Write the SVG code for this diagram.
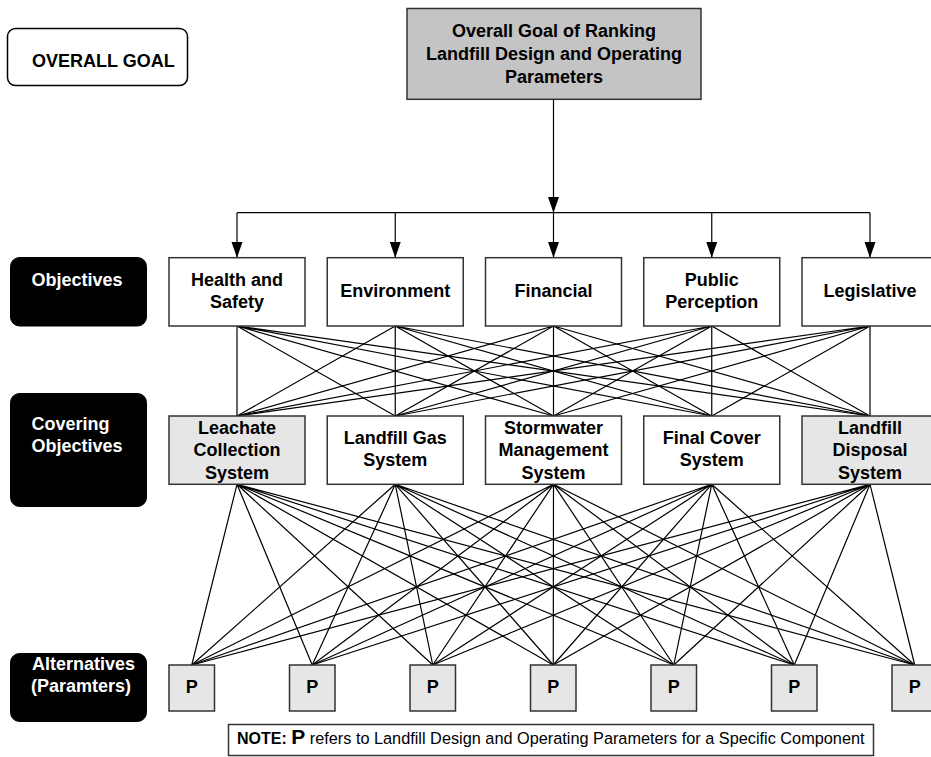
<svg xmlns="http://www.w3.org/2000/svg" width="931" height="757" viewBox="0 0 931 757">
<style>
text{font-family:"Liberation Sans",Arial,sans-serif;font-weight:bold;fill:#000;text-anchor:middle;font-size:18px}
.lbl text{fill:#fff;text-anchor:start}
.lbl rect{fill:#000;stroke:#000}
.box{stroke:#333;stroke-width:1.5;fill:#fff}
.gray{fill:#e6e6e6}
.goal{fill:#c4c4c4}
.ln{stroke:#000;stroke-width:1.2;fill:none}
</style>
<defs>
<marker id="ah" markerUnits="userSpaceOnUse" markerWidth="16" markerHeight="12" refX="16" refY="6" orient="auto">
<path d="M0,0.4 L16,6 L0,11.6 z" fill="#000"/>
</marker>
</defs>
<rect width="931" height="757" fill="#fff"/>

<g id="legend-overall-goal">
<rect x="7.5" y="28.5" width="180" height="57" rx="8" fill="#fff" stroke="#000" stroke-width="1.5"/>
<text x="32" y="66.5" style="text-anchor:start">OVERALL GOAL</text>
</g>
<g id="legend-objectives" class="lbl">
<rect x="10.5" y="257.5" width="136" height="68.5" rx="9"/>
<text x="31.5" y="286">Objectives</text>
</g>
<g id="legend-covering" class="lbl">
<rect x="10.5" y="393.5" width="136" height="113" rx="9"/>
<text x="31.5" y="430">Covering</text>
<text x="31.5" y="451.5">Objectives</text>
</g>
<g id="legend-alternatives" class="lbl">
<rect x="10.5" y="653.5" width="136" height="68" rx="9"/>
<text x="32" y="670">Alternatives</text>
<text x="31" y="691.5">(Paramters)</text>
</g>

<g id="connectors">
<path class="ln" d="M553.5,99.3 V212.7" marker-end="url(#ah)"/>
<path class="ln" d="M237,212.7 H870"/>
<path class="ln" d="M237,212.7 V257.7" marker-end="url(#ah)"/>
<path class="ln" d="M395.25,212.7 V257.7" marker-end="url(#ah)"/>
<path class="ln" d="M553.5,212.7 V257.7" marker-end="url(#ah)"/>
<path class="ln" d="M711.75,212.7 V257.7" marker-end="url(#ah)"/>
<path class="ln" d="M870,212.7 V257.7" marker-end="url(#ah)"/>
<path class="ln" d="M237,326 L237,416 M237,326 L395.25,416 M237,326 L553.5,416 M237,326 L711.75,416 M237,326 L870,416"/>
<path class="ln" d="M395.25,326 L237,416 M395.25,326 L395.25,416 M395.25,326 L553.5,416 M395.25,326 L711.75,416 M395.25,326 L870,416"/>
<path class="ln" d="M553.5,326 L237,416 M553.5,326 L395.25,416 M553.5,326 L553.5,416 M553.5,326 L711.75,416 M553.5,326 L870,416"/>
<path class="ln" d="M711.75,326 L237,416 M711.75,326 L395.25,416 M711.75,326 L553.5,416 M711.75,326 L711.75,416 M711.75,326 L870,416"/>
<path class="ln" d="M870,326 L237,416 M870,326 L395.25,416 M870,326 L553.5,416 M870,326 L711.75,416 M870,326 L870,416"/>
<path class="ln" d="M237,484.3 L191.75,665 M237,484.3 L312.25,665 M237,484.3 L432.75,665 M237,484.3 L553.25,665 M237,484.3 L673.75,665 M237,484.3 L794.25,665 M237,484.3 L914.75,665"/>
<path class="ln" d="M395.25,484.3 L191.75,665 M395.25,484.3 L312.25,665 M395.25,484.3 L432.75,665 M395.25,484.3 L553.25,665 M395.25,484.3 L673.75,665 M395.25,484.3 L794.25,665 M395.25,484.3 L914.75,665"/>
<path class="ln" d="M553.5,484.3 L191.75,665 M553.5,484.3 L312.25,665 M553.5,484.3 L432.75,665 M553.5,484.3 L553.25,665 M553.5,484.3 L673.75,665 M553.5,484.3 L794.25,665 M553.5,484.3 L914.75,665"/>
<path class="ln" d="M711.75,484.3 L191.75,665 M711.75,484.3 L312.25,665 M711.75,484.3 L432.75,665 M711.75,484.3 L553.25,665 M711.75,484.3 L673.75,665 M711.75,484.3 L794.25,665 M711.75,484.3 L914.75,665"/>
<path class="ln" d="M870,484.3 L191.75,665 M870,484.3 L312.25,665 M870,484.3 L432.75,665 M870,484.3 L553.25,665 M870,484.3 L673.75,665 M870,484.3 L794.25,665 M870,484.3 L914.75,665"/>
</g>

<g id="goal">
<rect class="box goal" x="407" y="8.5" width="294" height="90.8"/>
<text x="554" y="36.7">Overall Goal of Ranking</text>
<text x="554" y="60">Landfill Design and Operating</text>
<text x="554" y="83.3">Parameters</text>
</g>

<g id="obj-health">
<rect class="box" x="169" y="257.7" width="136" height="68.3"/>
<text x="237" y="286">Health and</text>
<text x="237" y="308">Safety</text>
</g>
<g id="obj-environment">
<rect class="box" x="327.25" y="257.7" width="136" height="68.3"/>
<text x="395.25" y="297.3">Environment</text>
</g>
<g id="obj-financial">
<rect class="box" x="485.5" y="257.7" width="136" height="68.3"/>
<text x="553.5" y="297.3">Financial</text>
</g>
<g id="obj-public">
<rect class="box" x="643.75" y="257.7" width="136" height="68.3"/>
<text x="711.75" y="286">Public</text>
<text x="711.75" y="308">Perception</text>
</g>
<g id="obj-legislative">
<rect class="box" x="802" y="257.7" width="136" height="68.3"/>
<text x="870" y="297.3">Legislative</text>
</g>

<g id="cov-leachate">
<rect class="box gray" x="169" y="416" width="136" height="68.3"/>
<text x="237" y="433.5">Leachate</text>
<text x="237" y="456">Collection</text>
<text x="237" y="478.5">System</text>
</g>
<g id="cov-gas">
<rect class="box" x="327.25" y="416" width="136" height="68.3"/>
<text x="395.25" y="443.5">Landfill Gas</text>
<text x="395.25" y="466">System</text>
</g>
<g id="cov-stormwater">
<rect class="box" x="485.5" y="416" width="136" height="68.3"/>
<text x="553.5" y="433.5">Stormwater</text>
<text x="553.5" y="456">Management</text>
<text x="553.5" y="478.5">System</text>
</g>
<g id="cov-finalcover">
<rect class="box" x="643.75" y="416" width="136" height="68.3"/>
<text x="711.75" y="443.5">Final Cover</text>
<text x="711.75" y="466">System</text>
</g>
<g id="cov-disposal">
<rect class="box gray" x="802" y="416" width="136" height="68.3"/>
<text x="870" y="433.5">Landfill</text>
<text x="870" y="456">Disposal</text>
<text x="870" y="478.5">System</text>
</g>

<g id="p1"><rect class="box gray" x="169" y="665" width="45.5" height="46"/><text x="191.75" y="692.5">P</text></g>
<g id="p2"><rect class="box gray" x="289.5" y="665" width="45.5" height="46"/><text x="312.25" y="692.5">P</text></g>
<g id="p3"><rect class="box gray" x="410" y="665" width="45.5" height="46"/><text x="432.75" y="692.5">P</text></g>
<g id="p4"><rect class="box gray" x="530.5" y="665" width="45.5" height="46"/><text x="553.25" y="692.5">P</text></g>
<g id="p5"><rect class="box gray" x="651" y="665" width="45.5" height="46"/><text x="673.75" y="692.5">P</text></g>
<g id="p6"><rect class="box gray" x="771.5" y="665" width="45.5" height="46"/><text x="794.25" y="692.5">P</text></g>
<g id="p7"><rect class="box gray" x="892" y="665" width="45.5" height="46"/><text x="914.75" y="692.5">P</text></g>

<g id="note">
<rect class="box" x="228.5" y="724.5" width="645" height="31"/>
<text x="237" y="744" style="text-anchor:start;font-size:16px">NOTE: <tspan style="font-size:21px">P</tspan><tspan style="font-weight:normal;font-size:16.3px"> refers to Landfill Design and Operating Parameters for a Specific Component</tspan></text>
</g>
</svg>
